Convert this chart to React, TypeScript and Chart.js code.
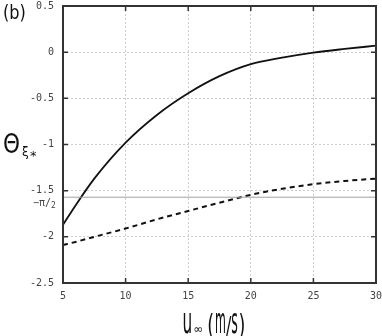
import React, { useEffect, useRef } from "react";
import { Chart, registerables } from "chart.js";

Chart.register(...registerables);

// ---- data ----
const speeds = [5, 6, 7.5, 10, 12.5, 15, 17.5, 20, 22.5, 25, 27.5, 30];
const thetaSolid = [-1.87, -1.66, -1.37, -0.98, -0.68, -0.445, -0.26, -0.13, -0.06, -0.005, 0.035, 0.07];
const thetaDashed = [-2.09, -2.055, -2.0, -1.91, -1.81, -1.72, -1.63, -1.545, -1.48, -1.43, -1.395, -1.37];
const refX = [5, 30];
const refLevel = [-Math.PI / 2, -Math.PI / 2];
const xTicks = [5, 10, 15, 20, 25, 30];
const yTicks = [0.5, 0, -0.5, -1, -1.5, -2, -2.5];

const TICK_FONT = "'DejaVu Sans Mono', 'Liberation Mono', monospace";
const LABEL_FONT = "'DejaVu Sans', 'Liberation Sans', sans-serif";

function drawStretched(
  ctx: CanvasRenderingContext2D,
  text: string,
  x: number,
  baseline: number,
  px: number,
  sx: number,
  sy: number
): number {
  ctx.save();
  ctx.font = `${px}px ${LABEL_FONT}`;
  const w = ctx.measureText(text).width * sx;
  ctx.translate(x, baseline);
  ctx.scale(sx, sy);
  ctx.textAlign = "left";
  ctx.textBaseline = "alphabetic";
  ctx.fillText(text, 0, 0);
  ctx.restore();
  return w;
}

const framePlugin = {
  id: "frame",
  afterDatasetsDraw(chart: any) {
    const ctx: CanvasRenderingContext2D = chart.ctx;
    const { left, right, top, bottom } = chart.chartArea;
    const xs = chart.scales.x;
    const ys = chart.scales.y;
    ctx.save();
    // inward ticks
    ctx.strokeStyle = "#333";
    ctx.lineWidth = 1.5;
    const tl = 5;
    ctx.beginPath();
    for (const v of xTicks) {
      const px = xs.getPixelForValue(v);
      ctx.moveTo(px, bottom);
      ctx.lineTo(px, bottom - tl);
      ctx.moveTo(px, top);
      ctx.lineTo(px, top + tl);
    }
    for (const v of yTicks) {
      const py = ys.getPixelForValue(v);
      ctx.moveTo(left, py);
      ctx.lineTo(left + tl, py);
      ctx.moveTo(right, py);
      ctx.lineTo(right - tl, py);
    }
    ctx.stroke();
    // box
    ctx.lineWidth = 2;
    ctx.strokeStyle = "#333";
    ctx.strokeRect(left, top, right - left, bottom - top);

    // -pi/2 label
    const pyRef = ys.getPixelForValue(refLevel[0]);
    ctx.fillStyle = "#444";
    ctx.font = `10px ${TICK_FONT}`;
    ctx.textAlign = "left";
    ctx.textBaseline = "alphabetic";
    ctx.fillText("\u2212\u03c0/", 33, pyRef + 9);
    ctx.font = `8px ${TICK_FONT}`;
    ctx.fillText("2", 51, pyRef + 11);

    // (b)
    ctx.fillStyle = "#111";
    drawStretched(ctx, "(b)", 3, 19, 19, 0.85, 1);

    // Theta_xi*
    drawStretched(ctx, "\u0398", 3, 153, 27, 0.8, 1);
    ctx.font = `12px ${LABEL_FONT}`;
    ctx.fillText("\u03be", 22, 156);
    ctx.font = `13px ${LABEL_FONT}`;
    ctx.fillText("*", 30, 160);

    // x title: u∞ (m/s)
    const cx = (left + right) / 2;
    let x = cx - 37;
    const base = 333;
    x += drawStretched(ctx, "u", x, base, 18, 0.85, 1.95) + 1;
    ctx.font = `12px ${LABEL_FONT}`;
    ctx.fillText("\u221e", x, base);
    x += ctx.measureText("\u221e").width + 4;
    x += drawStretched(ctx, "(", x, base + 2, 22, 0.8, 1.25) + 1;
    x += drawStretched(ctx, "m", x, base, 18, 0.62, 1.95);
    x += drawStretched(ctx, "/", x, base + 1, 20, 0.8, 1.2);
    x += drawStretched(ctx, "s", x, base, 18, 0.7, 1.95) + 0.5;
    drawStretched(ctx, ")", x, base + 2, 22, 0.8, 1.25);
    ctx.restore();
  },
};

export default function App() {
  const canvasRef = useRef<HTMLCanvasElement | null>(null);

  useEffect(() => {
    if (!canvasRef.current) return;
    const chart = new Chart(canvasRef.current, {
      type: "line",
      data: {
        datasets: [
          {
            data: refX.map((v, i) => ({ x: v, y: refLevel[i] })),
            borderColor: "#a0a0a0",
            borderWidth: 1,
            pointRadius: 0,
            tension: 0,
          },
          {
            data: speeds.map((v, i) => ({ x: v, y: thetaDashed[i] })),
            borderColor: "#111",
            borderWidth: 2,
            borderDash: [5, 4],
            pointRadius: 0,
            cubicInterpolationMode: "monotone",
          },
          {
            data: speeds.map((v, i) => ({ x: v, y: thetaSolid[i] })),
            borderColor: "#111",
            borderWidth: 1.8,
            pointRadius: 0,
            cubicInterpolationMode: "monotone",
          },
        ],
      },
      options: {
        animation: false,
        responsive: false,
        maintainAspectRatio: false,
        layout: { padding: { left: 0, top: 6, right: 6, bottom: 0 } },
        plugins: {
          legend: { display: false },
          tooltip: { enabled: false },
          title: { display: false },
        },
        scales: {
          x: {
            type: "linear",
            min: 5,
            max: 30,
            afterBuildTicks: (s: any) => {
              s.ticks = xTicks.map((v) => ({ value: v }));
            },
            afterFit: (s: any) => {
              s.height = 53;
              s.paddingLeft = 0;
              s.paddingRight = 0;
              s.paddingTop = 0;
              s.paddingBottom = 0;
            },
            grid: { color: "#cdcdcd", lineWidth: 1, drawTicks: false },
            border: { display: false, dash: [2, 2] },
            ticks: {
              padding: 7,
              color: "#444",
              font: { family: TICK_FONT, size: 10 },
              maxRotation: 0,
              autoSkip: false,
              callback: (v: any) => String(v),
            },
          },
          y: {
            type: "linear",
            min: -2.5,
            max: 0.5,
            afterBuildTicks: (s: any) => {
              s.ticks = yTicks.map((v) => ({ value: v }));
            },
            afterFit: (s: any) => {
              s.width = 63;
              s.paddingLeft = 0;
              s.paddingRight = 0;
              s.paddingTop = 0;
              s.paddingBottom = 0;
            },
            grid: { color: "#cdcdcd", lineWidth: 1, drawTicks: false },
            border: { display: false, dash: [2, 2] },
            ticks: {
              padding: 9,
              color: "#444",
              font: { family: TICK_FONT, size: 10 },
              autoSkip: false,
              callback: (v: any) => String(v),
            },
          },
        },
      },
      plugins: [framePlugin],
    });
    return () => chart.destroy();
  }, []);

  return (
    <div style={{ position: "fixed", left: 0, top: 0, width: 382, height: 336, background: "#fff" }}>
      <canvas ref={canvasRef} width={382} height={336} style={{ display: "block" }} />
    </div>
  );
}
